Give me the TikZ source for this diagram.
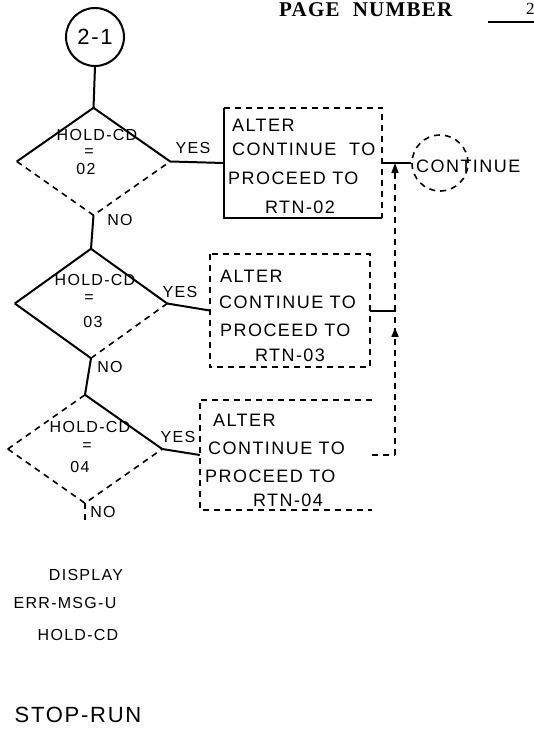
\documentclass[tikz,border=0pt]{standalone}
\usepackage{fontspec}
\setmainfont{Liberation Sans}
\newfontfamily\handfont{Liberation Sans}[LetterSpace=8]
\newfontfamily\pagefont{Liberation Serif}[LetterSpace=6]
\usetikzlibrary{shapes.geometric,arrows.meta,decorations.markings}
\begin{document}
\begin{tikzpicture}[x=1pt,y=-1pt,
  flow/.style={line width=2pt},
  faint/.style={line width=1.6pt,dash pattern=on 6pt off 5pt},
  hand/.style={font=\handfont\fontsize{18}{18}\selectfont,inner sep=0pt},
  handsm/.style={font=\handfont\fontsize{16}{16}\selectfont,inner sep=0pt},
  dia/.style={diamond,inner sep=0pt},
  boxn/.style={rectangle,inner sep=0pt},
  midarrow/.style={postaction={decorate},decoration={markings,
     mark=at position #1 with {\arrow{Triangle[length=9pt,width=7pt]}}}}]
\useasboundingbox (0,0) rectangle (534,731);
\fill[white] (0,0) rectangle (534,731);

% header
\node[anchor=west,inner sep=0pt,font=\pagefont\bfseries\fontsize{21}{21}\selectfont] (page) at (279,10) {PAGE\ \ NUMBER};
\coordinate (pu1) at (488,22);
\coordinate (pu2) at (534,22);
\draw[line width=1.5pt] (pu1) -- (pu2);
\node[anchor=west,inner sep=0pt,font=\pagefont\fontsize{17}{17}\selectfont] (pnum) at (526,9) {2};

% start connector
\node[circle,draw,line width=2pt,minimum size=58pt,inner sep=0pt,font=\handfont\fontsize{22}{22}\selectfont] (c21) at (95,37) {2-1};

% diamonds
\node[dia,minimum width=153pt,minimum height=107pt] (d1) at (93.5,161.5) {};
\node[dia,minimum width=152pt,minimum height=109pt] (d2) at (91,303.5) {};
\node[dia,minimum width=154pt,minimum height=108pt] (d3) at (85,449) {};

\draw[flow] (d1.west) -- (d1.north) -- (d1.east);
\draw[faint] (d1.west) -- (d1.south) -- (d1.east);
\draw[flow] (d2.west) -- (d2.north) -- (d2.east);
\draw[flow] (d2.west) -- (d2.south);
\draw[faint] (d2.south) -- (d2.east);
\draw[faint] (d3.west) -- (d3.north);
\draw[flow] (d3.north) -- (d3.east);
\draw[faint] (d3.west) -- (d3.south) -- (d3.east);

% diamond texts
\node[handsm] (t1a) at (97,135) {HOLD-CD};
\node[handsm] (t1b) at (89,153) {=};
\node[handsm] (t1c) at (86,169) {02};
\node[handsm] (t2a) at (95,280) {HOLD-CD};
\node[handsm] (t2b) at (89,299) {=};
\node[handsm] (t2c) at (93,322) {03};
\node[handsm] (t3a) at (90,427) {HOLD-CD};
\node[handsm] (t3b) at (87,447) {=};
\node[handsm] (t3c) at (80,467) {04};

% boxes
\node[boxn,minimum width=158pt,minimum height=110pt] (b1) at (303,163) {};
\node[boxn,minimum width=160pt,minimum height=113pt] (b2) at (290,310.5) {};
\node[boxn,minimum width=172pt,minimum height=110pt] (b3) at (286,455) {};

\draw[flow] (b1.north west) -- (b1.south west) -- (b1.south east);
\draw[faint] (b1.north west) -- (b1.north east) -- (b1.south east);
\draw[faint] (b2.north west) rectangle (b2.south east);
\draw[faint] (b3.north east) -- (b3.north west) -- (b3.south west) -- (b3.south east);

% box texts
\node[hand,anchor=west] (a1) at (232,125) {ALTER};
\node[hand,anchor=west] (a2) at (232,149) {CONTINUE\ \ TO};
\node[hand,anchor=west] (a3) at (228,178) {PROCEED TO};
\node[hand] (a4) at (300,207) {RTN-02};
\node[hand,anchor=west] (e1) at (220,276) {ALTER};
\node[hand,anchor=west] (e2) at (219,302) {CONTINUE TO};
\node[hand,anchor=west] (e3) at (220,330) {PROCEED TO};
\node[hand] (e4) at (290,355) {RTN-03};
\node[hand,anchor=west] (f1) at (213,420) {ALTER};
\node[hand,anchor=west] (f2) at (208,448) {CONTINUE TO};
\node[hand,anchor=west] (f3) at (205,476) {PROCEED TO};
\node[hand] (f4) at (288,500) {RTN-04};

% continue connector
\node[circle,draw,faint,minimum size=56pt,inner sep=0pt] (cont) at (440,163) {};
\node[hand,anchor=west] (contt) at (416,166) {CONTINUE};

% yes / no labels
\node[handsm] (y1) at (193,148) {YES};
\node[handsm] (y2) at (180,292) {YES};
\node[handsm] (y3) at (178,437) {YES};
\node[handsm] (n1) at (120,220) {NO};
\node[handsm] (n2) at (110,367) {NO};
\node[handsm] (n3) at (103,512) {NO};

% flow lines
\draw[flow] (c21.south) -- (d1.north);
\draw[flow] (d1.south) -- (d2.north);
\draw[flow] (d2.south) -- (d3.north);
\coordinate (s3) at (85,525);
\draw[faint] (d3.south) -- (s3);
\draw[flow] (d1.east) -- (b1.west);
\draw[flow] (d2.east) -- (b2.west);
\draw[flow] (d3.east) -- (b3.west);

% return connectors
\coordinate (k1) at (395,163);
\coordinate (k3) at (395,455);
\draw[flow] (b1.east) -- (k1) -- (cont.west);
\draw[flow] (b2.east) -- (b2.east -| k1) coordinate (k2);
\draw[faint] (b3.east) -- (k3);
\draw[faint,midarrow=0.88] (k3) -- (k2);
\draw[faint,-{Triangle[length=10pt,width=7pt]}] (k2) -- (k1);

% lower texts
\node[handsm] (g1) at (86,575) {DISPLAY};
\node[handsm] (g2) at (65,603) {ERR-MSG-U};
\node[handsm] (g3) at (78,635) {HOLD-CD};
\node[hand,font=\handfont\fontsize{22}{22}\selectfont] (g4) at (78,715) {STOP-RUN};
\end{tikzpicture}
\end{document}
